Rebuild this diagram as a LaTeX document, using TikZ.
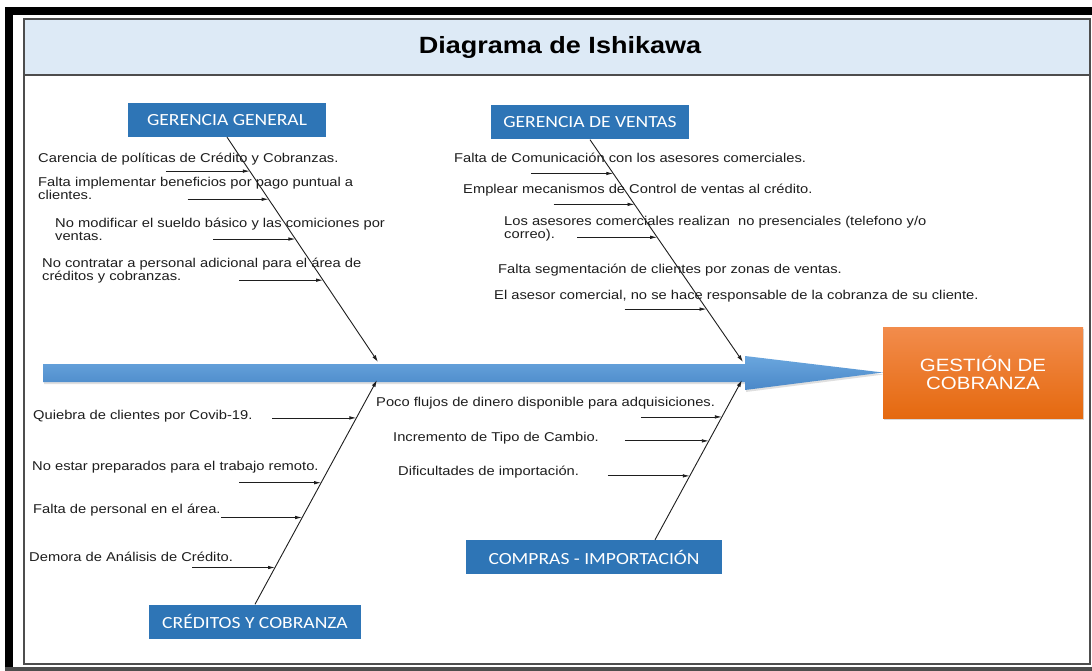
\documentclass[tikz,border=0pt]{standalone}
\usepackage{fontspec}
\setmainfont[FakeStretch=1.15]{Liberation Sans}
\newfontfamily\catfont[FakeStretch=1.15]{Carlito}
\usetikzlibrary{positioning,arrows.meta,calc,shadows}
\definecolor{head}{HTML}{DDEAF6}
\definecolor{frame}{HTML}{4D4D4D}
\definecolor{catblue}{HTML}{2E75B6}
\definecolor{spinetop}{HTML}{6AA6DE}
\definecolor{spinebot}{HTML}{4A88C8}
\definecolor{orangetop}{HTML}{F28C4C}
\definecolor{orangebot}{HTML}{E5690F}
\definecolor{ink}{HTML}{1E1E1E}

\begin{document}
\begin{tikzpicture}[x=1pt,y=-1pt,
  catbox/.style={fill=catblue,text=white,font=\catfont\fontsize{17}{20}\selectfont,minimum height=34pt,inner sep=0pt},
  bone/.style={-{Latex[length=7pt,width=4pt]},ink,line width=.9pt},
  cause/.style={-{Latex[length=7pt,width=3.5pt]},ink,line width=.8pt},
  ctext/.style={anchor=west,inner sep=0pt,align=left,text=ink,font=\fontsize{12.8}{13.5}\selectfont}]
  \useasboundingbox (0,0) rectangle (1092,671);
  \fill[white] (0,0) rectangle (1092,671);
  \fill[black] (5,7) rectangle (13,671);
  \fill[black] (5,7) rectangle (1092,15);
  \fill[frame] (5,667) rectangle (1092,671);
  \fill[head] (24,19) rectangle (1090,74);
  \draw[frame,line width=1.5pt] (24,75) -- (1090,75);
  \draw[frame,line width=1.2pt] (24,19) rectangle (1090,664);
  \node[font=\bfseries\fontsize{23.5}{28}\selectfont,text=black] (title) at (560,47) {Diagrama de Ishikawa};

  \node[top color=orangetop,bottom color=orangebot,drop shadow={opacity=.3,shadow xshift=1pt,shadow yshift=-2pt},minimum width=200pt,minimum height=91pt,align=center,text=white,font=\fontsize{17.8}{18}\selectfont] (eff) at (983,372.5) {GESTIÓN DE\\COBRANZA};
  \path[top color=spinetop,bottom color=spinebot,drop shadow={opacity=.25,shadow xshift=1pt,shadow yshift=-2pt}] (43,364) -- (745,364) -- (745,356) -- (eff.west) -- (745,390) -- (745,382) -- (43,382) -- cycle;

  \node[catbox,minimum width=198pt] (gg) at (227,120) {GERENCIA GENERAL};
  \node[catbox,minimum width=198pt] (gv) at (590,122.5) {GERENCIA DE VENTAS};
  \node[catbox,minimum width=212pt] (cc) at (255,621.5) {CRÉDITOS Y COBRANZA};
  \node[catbox,minimum width=256pt] (ci) at (594,557) {COMPRAS - IMPORTACIÓN};

  \node[ctext] (gt1) at (38,159) {Carencia de políticas de Crédito y Cobranzas.};
  \node[ctext] (gt2) at (38,188.5) {Falta implementar beneficios por pago puntual a\\clientes.};
  \node[ctext] (gt3) at (55,229.5) {No modificar el sueldo básico y las comiciones por\\ventas.};
  \node[ctext] (gt4) at (42,270.5) {No contratar a personal adicional para el área de\\créditos y cobranzas.};

  \node[ctext] (vt1) at (454,158) {Falta de Comunicación con los asesores comerciales.};
  \node[ctext] (vt2) at (463,190) {Emplear mecanismos de Control de ventas al crédito.};
  \node[ctext] (vt3) at (504,228.5) {Los asesores comerciales realizan\ \ no presenciales (telefono y/o\\correo).};
  \node[ctext] (vt4) at (498,270) {Falta segmentación de clientes por zonas de ventas.};
  \node[ctext] (vt5) at (494,296) {El asesor comercial, no se hace responsable de la cobranza de su cliente.};

  \node[ctext] (ct1) at (33,416) {Quiebra de clientes por Covib-19.};
  \node[ctext] (ct2) at (32,467) {No estar preparados para el trabajo remoto.};
  \node[ctext] (ct3) at (33,510) {Falta de personal en el área.};
  \node[ctext] (ct4) at (29,557) {Demora de Análisis de Crédito.};

  \node[ctext] (mt1) at (376,403) {Poco flujos de dinero disponible para adquisiciones.};
  \node[ctext] (mt2) at (393,438) {Incremento de Tipo de Cambio.};
  \node[ctext] (mt3) at (398,472) {Dificultades de importación.};

  \coordinate (s1) at (378,362);
  \coordinate (s2) at (743,362);
  \coordinate (s3) at (377,380);
  \coordinate (s4) at (742,380);

  \draw[bone] (gg.south) -- coordinate[pos=.151] (g1) coordinate[pos=.276] (g2) coordinate[pos=.453] (g3) coordinate[pos=.636] (g4) (s1);
  \draw[bone] (gv.south) -- coordinate[pos=.152] (v1) coordinate[pos=.291] (v2) coordinate[pos=.439] (v3) coordinate[pos=.762] (v5) (s2);
  \draw[bone] (cc.north) -- coordinate[pos=.164] (c4) coordinate[pos=.387] (c3) coordinate[pos=.542] (c2) coordinate[pos=.831] (c1) (s3);
  \draw[bone] ([xshift=61pt]ci.north) -- coordinate[pos=.4] (m3) coordinate[pos=.619] (m2) coordinate[pos=.769] (m1) (s4);

  \draw[cause] ([xshift=-84pt]g1) -- (g1);
  \draw[cause] ([xshift=-81pt]g2) -- (g2);
  \draw[cause] ([xshift=-82pt]g3) -- (g3);
  \draw[cause] ([xshift=-84pt]g4) -- (g4);
  \draw[cause] ([xshift=-82pt]v1) -- (v1);
  \draw[cause] ([xshift=-81pt]v2) -- (v2);
  \draw[cause] ([xshift=-80pt]v3) -- (v3);
  \draw[cause] ([xshift=-82pt]v5) -- (v5);
  \draw[cause] ([xshift=-84pt]c1) -- (c1);
  \draw[cause] ([xshift=-82pt]c2) -- (c2);
  \draw[cause] ([xshift=-81pt]c3) -- (c3);
  \draw[cause] ([xshift=-83pt]c4) -- (c4);
  \draw[cause] ([xshift=-81pt]m1) -- (m1);
  \draw[cause] ([xshift=-84pt]m2) -- (m2);
  \draw[cause] ([xshift=-82pt]m3) -- (m3);
\end{tikzpicture}
\end{document}
